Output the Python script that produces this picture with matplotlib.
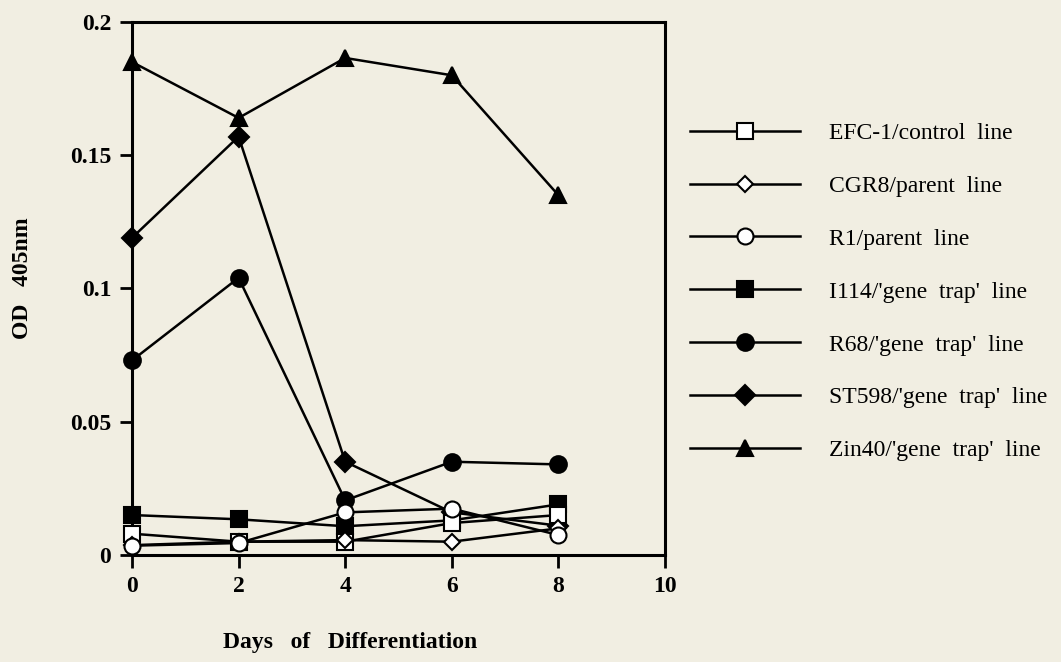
import numpy as np
import matplotlib
matplotlib.use("Agg")
import matplotlib.pyplot as plt

days = [0, 2, 4, 6, 8]

efc1 = [0.008, 0.005, 0.005, 0.012, 0.015]
cgr8 = [0.0037, 0.005, 0.0056, 0.005, 0.010]
r1 = [0.0035, 0.0045, 0.016, 0.0174, 0.0075]
i114 = [0.015, 0.0134, 0.0108, 0.013, 0.019]
r68 = [0.073, 0.104, 0.0205, 0.035, 0.034]
st598 = [0.119, 0.157, 0.035, 0.016, 0.011]
zin40 = [0.185, 0.164, 0.1865, 0.180, 0.135]

labels = ["EFC-1/control  line", "CGR8/parent  line", "R1/parent  line",
          "I114/'gene  trap'  line", "R68/'gene  trap'  line",
          "ST598/'gene  trap'  line", "Zin40/'gene  trap'  line"]

bg = "#f1eee2"
plt.rcParams['font.family'] = ['Liberation Serif', 'DejaVu Serif']

fig = plt.figure(figsize=(10.61, 6.62), dpi=100, facecolor=bg)
ax = fig.add_axes([0.1244, 0.1616, 0.5024, 0.8052])
ax.set_facecolor(bg)

series = [efc1, cgr8, r1, i114, r68, st598, zin40]
markers = ['s', 'D', 'o', 's', 'o', 'D', '^']
fills = ['white', 'white', 'white', 'black', 'black', 'black', 'black']
sizes = [11, 8, 11.5, 11, 12, 10, 11.5]
zords = [5, 5, 5, 3, 3, 3, 3]

handles = []
for vals, m, fc, ms, z, lab in zip(series, markers, fills, sizes, zords, labels):
    h, = ax.plot(days, vals, color='black', lw=1.8, marker=m, ms=ms,
                 mfc=fc, mec='black', mew=1.5, label=lab, clip_on=False, zorder=z)
    handles.append(h)

ax.set_xlim(0, 10)
ax.set_ylim(0, 0.2)
ax.set_xticks([0, 2, 4, 6, 8, 10])
ax.set_yticks([0, 0.05, 0.1, 0.15, 0.2])
ax.set_yticklabels(['0', '0.05', '0.1', '0.15', '0.2'])
for s in ax.spines.values():
    s.set_linewidth(2.2)
ax.tick_params(direction='out', length=9, width=2, labelsize=17, pad=6)
for t in ax.get_xticklabels() + ax.get_yticklabels():
    t.set_fontweight('bold')

ax.set_xlabel("Days   of   Differentiation", fontsize=17, fontweight='bold')
ax.xaxis.set_label_coords(0.41, -0.144)
ax.set_ylabel("OD   405nm", fontsize=17, fontweight='bold')
ax.yaxis.set_label_coords(-0.186, 0.52)

fig.legend(handles=handles, loc='upper left', bbox_to_anchor=(0.6414, 0.8295),
           frameon=False, fontsize=17, handlelength=4.65, handletextpad=1.25,
           labelspacing=1.33, borderaxespad=0)

fig.savefig("out.png", dpi=100, facecolor=bg)
